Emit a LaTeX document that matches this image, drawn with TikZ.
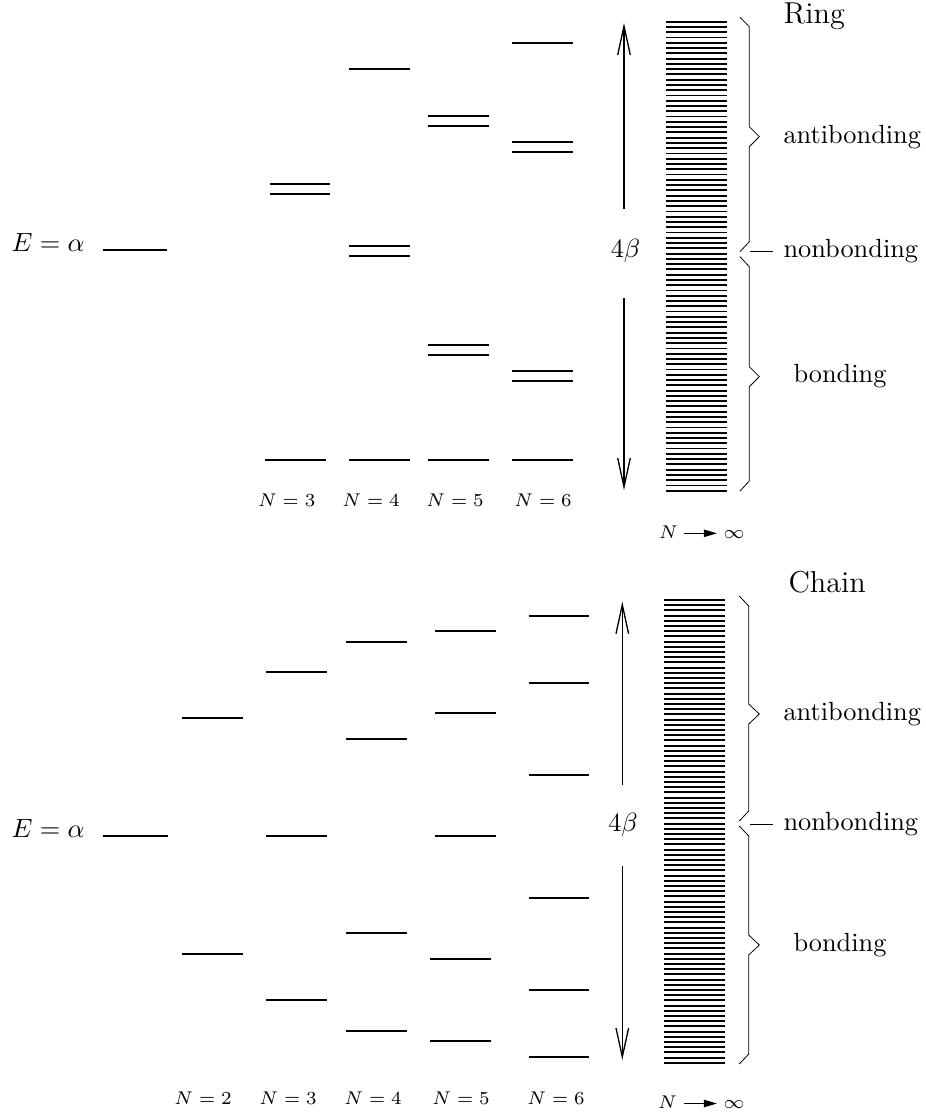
\documentclass[tikz,border=0pt]{standalone}
\usetikzlibrary{arrows.meta}
\begin{document}
\begin{tikzpicture}[x=0.38pt,y=-0.38pt,
  level/.style={line width=0.65pt},
  bandline/.style={line width=0.7pt},
  bracepath/.style={line width=0.3pt, line join=miter},
  span/.style={line width=0.5pt, -{Straight Barb[length=11pt,width=4.8pt,line width=0.5pt]}},
  limit/.style={line width=0.5pt, -{Triangle[length=5pt,width=2.8pt]}},
  nlabel/.style={font=\scriptsize, anchor=base, inner sep=0pt},
  word/.style={font=\normalsize, anchor=base west, inner sep=0pt},
  title/.style={font=\fontsize{11.5}{14}\selectfont, anchor=base west, inner sep=0pt}]
\useasboundingbox (0,0) rectangle (926,1117);

% ---------------- Ring ----------------
\node[title] (ringtitle) at (783,23) {Ring};
\node[anchor=base west, inner sep=0pt] (alphaR) at (11,251) {$E=\alpha$};
\draw[level] (103,250) -- (167,250);
% N = 3
\draw[level] (270,183.7) -- (330,183.7);
\draw[level] (270,194) -- (330,194);
\draw[level] (265,459.7) -- (325.7,459.7);
% N = 4
\draw[level] (349,69) -- (410,69);
\draw[level] (349,246) -- (410,246);
\draw[level] (349,256.3) -- (410,256.3);
\draw[level] (349,459.7) -- (410,459.7);
% N = 5
\draw[level] (428,116) -- (489,116);
\draw[level] (428,126.3) -- (489,126.3);
\draw[level] (428,345) -- (489,345);
\draw[level] (428,355.3) -- (489,355.3);
\draw[level] (428,459.7) -- (489,459.7);
% N = 6
\draw[level] (512,42.7) -- (573,42.7);
\draw[level] (512,141.7) -- (573,141.7);
\draw[level] (512,152) -- (573,152);
\draw[level] (512,371.3) -- (573,371.3);
\draw[level] (512,381.3) -- (573,381.3);
\draw[level] (512,459.7) -- (573,459.7);

\node[nlabel] (rn3) at (286.7,506.7) {$N=3$};
\node[nlabel] (rn4) at (371,506.7) {$N=4$};
\node[nlabel] (rn5) at (455,506.7) {$N=5$};
\node[nlabel] (rn6) at (543,506.7) {$N=6$};

% band width arrow
\node[anchor=base, inner sep=0pt] (betaR) at (625.5,257) {$4\beta$};
\coordinate (rUpStart) at (624,209);
\coordinate (rUpTip) at (624,23);
\coordinate (rDnStart) at (624,298);
\coordinate (rDnTip) at (624,490);
\draw[span] (rUpStart) -- (rUpTip);
\draw[span] (rDnStart) -- (rDnTip);

% quasi-continuous band
\foreach \i in {0,...,89}
  \draw[bandline] (666,21.7+\i*5.27) -- (726.7,21.7+\i*5.27);

% braces
\draw[bracepath] (740,17.3) -- (749.3,26.7) -- (749.3,126.7) -- (759.3,136.7)
  -- (749.3,146.7) -- (749.3,241.7) -- (740,251.7);
\draw[bracepath] (740,256.7) -- (749.3,266.7) -- (749.3,366.7) -- (759.3,376.7)
  -- (749.3,386.7) -- (749.3,481) -- (740,491);
\node[word] (rAnti) at (783,143) {antibonding};
\node[word] (rNon) at (783,257) {nonbonding};
\node[word] (rBond) at (793,382) {bonding};
\coordinate (rNonTip) at (750,251.7);
\coordinate (rNonEnd) at (773,251.7);
\draw[line width=0.3pt] (rNonTip) -- (rNonEnd);

% N -> infinity
\node[font=\scriptsize, inner sep=0pt, anchor=base] (rN) at (668.5,538) {$N$};
\node[font=\scriptsize, inner sep=0pt, anchor=base] (rInf) at (734,538) {$\infty$};
\coordinate (rLimA) at (684,533.3);
\coordinate (rLimB) at (717,533.3);
\draw[limit] (rLimA) -- (rLimB);

% ---------------- Chain ----------------
\node[title] (chaintitle) at (788,592) {Chain};
\node[anchor=base west, inner sep=0pt] (alphaC) at (11,837) {$E=\alpha$};
\draw[level] (103,836.3) -- (167.7,836.3);
% N = 2
\draw[level] (182,718.3) -- (242.7,718.3);
\draw[level] (182,954) -- (242.7,954);
% N = 3
\draw[level] (266.3,672.3) -- (327,672.3);
\draw[level] (266.3,836.3) -- (327,836.3);
\draw[level] (266.3,1000) -- (327,1000);
% N = 4
\draw[level] (346,641.7) -- (406.7,641.7);
\draw[level] (346,739) -- (406.7,739);
\draw[level] (346,933.3) -- (406.7,933.3);
\draw[level] (346,1031) -- (406.7,1031);
% N = 5
\draw[level] (435,631.3) -- (495.7,631.3);
\draw[level] (435,713.3) -- (495.7,713.3);
\draw[level] (435,836.3) -- (495.7,836.3);
\draw[level] (430.3,959) -- (491,959);
\draw[level] (430.3,1041.3) -- (491,1041.3);
% N = 6
\draw[level] (528.7,616) -- (589.3,616);
\draw[level] (528.7,682.7) -- (589.3,682.7);
\draw[level] (528.7,774.7) -- (589.3,774.7);
\draw[level] (528.7,897.7) -- (589.3,897.7);
\draw[level] (528.7,989.7) -- (589.3,989.7);
\draw[level] (528.7,1056.7) -- (589.3,1056.7);

\node[nlabel] (cn2) at (203,1104) {$N=2$};
\node[nlabel] (cn3) at (288,1104) {$N=3$};
\node[nlabel] (cn4) at (373,1104) {$N=4$};
\node[nlabel] (cn5) at (461,1104) {$N=5$};
\node[nlabel] (cn6) at (556,1104) {$N=6$};

% band width arrow
\node[anchor=base, inner sep=0pt] (betaC) at (623,831) {$4\beta$};
\coordinate (cUpStart) at (622.3,785);
\coordinate (cUpTip) at (622.3,601.7);
\coordinate (cDnStart) at (622.3,866);
\coordinate (cDnTip) at (622.3,1060);
\draw[span] (cUpStart) -- (cUpTip);
\draw[span] (cDnStart) -- (cDnTip);

% quasi-continuous band
\foreach \i in {0,...,89}
  \draw[bandline] (664.3,600+\i*5.2) -- (725.3,600+\i*5.2);

% braces
\draw[bracepath] (739.3,596) -- (748.7,606) -- (748.7,704) -- (759.3,714)
  -- (748.7,724) -- (748.7,811) -- (739.3,821);
\draw[bracepath] (739.3,826) -- (748.7,836) -- (748.7,935) -- (759.3,945)
  -- (748.7,955) -- (748.7,1054) -- (739.3,1064);
\node[word] (cAnti) at (783,720) {antibonding};
\node[word] (cNon) at (783,830) {nonbonding};
\node[word] (cBond) at (793,951) {bonding};
\coordinate (cNonTip) at (750,824);
\coordinate (cNonEnd) at (773,824);
\draw[line width=0.3pt] (cNonTip) -- (cNonEnd);

% N -> infinity
\node[font=\scriptsize, inner sep=0pt, anchor=base] (cN) at (667.5,1108.6) {$N$};
\node[font=\scriptsize, inner sep=0pt, anchor=base] (cInf) at (734,1108.6) {$\infty$};
\coordinate (cLimA) at (684,1103.5);
\coordinate (cLimB) at (717,1103.5);
\draw[limit] (cLimA) -- (cLimB);
\end{tikzpicture}
\end{document}
